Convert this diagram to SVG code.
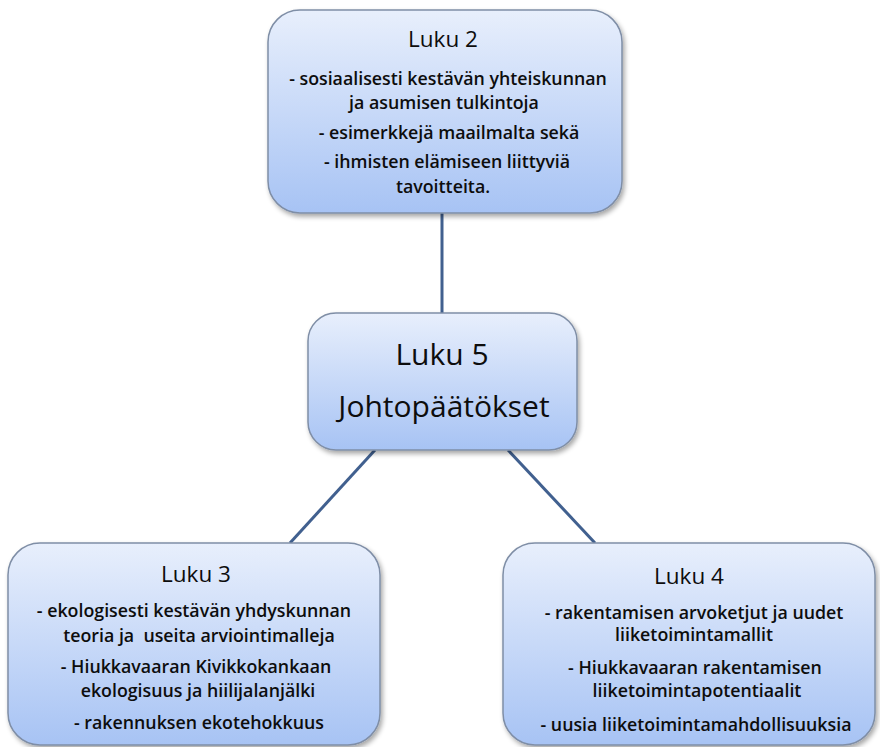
<svg xmlns="http://www.w3.org/2000/svg" width="880" height="747" viewBox="0 0 880 747">
<defs>
<linearGradient id="g" x1="0" y1="0" x2="0" y2="1">
<stop offset="0" stop-color="#e8effc"/>
<stop offset="1" stop-color="#a7c3f4"/>
</linearGradient>
<filter id="sh" x="-10%" y="-10%" width="125%" height="125%">
<feGaussianBlur in="SourceAlpha" stdDeviation="2.5"/>
<feOffset dx="2" dy="3" result="b"/>
<feComponentTransfer><feFuncA type="linear" slope="0.35"/></feComponentTransfer>
<feMerge><feMergeNode/><feMergeNode in="SourceGraphic"/></feMerge>
</filter>
</defs>
<style>
.box{fill:url(#g);stroke:#7f8ea6;stroke-width:1.5;filter:url(#sh)}
.t{font-family:"Open Sans","DejaVu Sans",sans-serif;fill:#0d0d0d;text-anchor:middle}
.h{font-size:22.5px}
.s{font-size:17.8px;font-weight:600}
.b{font-size:30px}
.c{stroke:#41608f;stroke-width:3;fill:none}
</style>
<rect width="880" height="747" fill="#fff"/>
<g id="connectors">
<line class="c" x1="442" y1="213" x2="442" y2="313"/>
<line class="c" x1="375" y1="450" x2="290" y2="543"/>
<line class="c" x1="508" y1="450" x2="595" y2="543"/>
</g>
<g id="luku2">
<rect class="box" x="268" y="10" width="354" height="203" rx="32"/>
<text class="t h" x="443" y="47">Luku 2</text>
<text class="t s" x="448" y="85">- sosiaalisesti kestävän yhteiskunnan</text>
<text class="t s" x="444" y="109">ja asumisen tulkintoja</text>
<text class="t s" x="449" y="139">- esimerkkejä maailmalta sekä</text>
<text class="t s" x="447" y="168">- ihmisten elämiseen liittyviä</text>
<text class="t s" x="443" y="193">tavoitteita.</text>
</g>
<g id="luku5">
<rect class="box" x="308" y="313" width="269" height="137" rx="28"/>
<text class="t b" x="442" y="365">Luku 5</text>
<text class="t b" x="444" y="417">Johtopäätökset</text>
</g>
<g id="luku3">
<rect class="box" x="8" y="543" width="372" height="202" rx="32"/>
<text class="t h" x="196" y="582">Luku 3</text>
<text class="t s" x="194" y="617">- ekologisesti kestävän yhdyskunnan</text>
<text class="t s" x="199" y="642" xml:space="preserve">teoria ja  useita arviointimalleja</text>
<text class="t s" x="196" y="673">- Hiukkavaaran Kivikkokankaan</text>
<text class="t s" x="198" y="697">ekologisuus ja hiilijalanjälki</text>
<text class="t s" x="199" y="729">- rakennuksen ekotehokkuus</text>
</g>
<g id="luku4">
<rect class="box" x="503" y="543" width="372" height="202" rx="32"/>
<text class="t h" x="689" y="584">Luku 4</text>
<text class="t s" x="694" y="619">- rakentamisen arvoketjut ja uudet</text>
<text class="t s" x="694" y="641">liiketoimintamallit</text>
<text class="t s" x="695" y="674">- Hiukkavaaran rakentamisen</text>
<text class="t s" x="697" y="697">liiketoimintapotentiaalit</text>
<text class="t s" x="696" y="731">- uusia liiketoimintamahdollisuuksia</text>
</g>
</svg>
